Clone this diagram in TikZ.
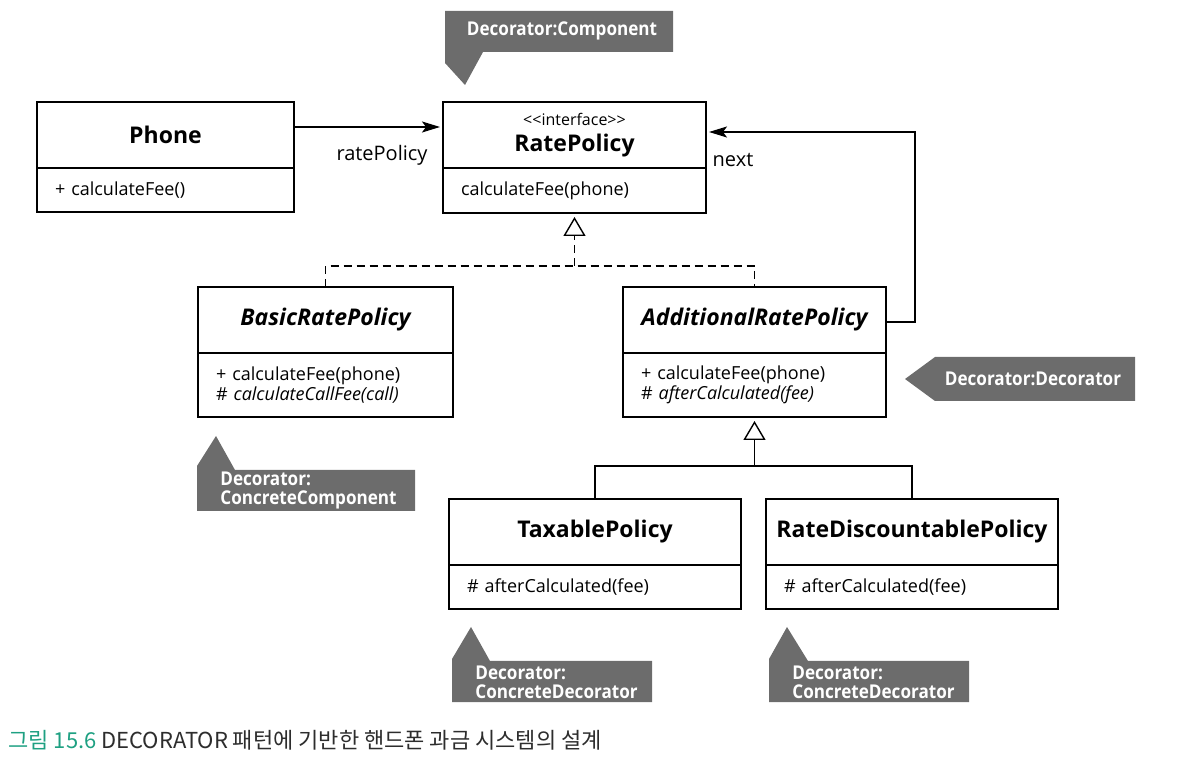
\documentclass[tikz,border=0pt]{standalone}
\usepackage{fontspec}
\setmainfont{Open Sans}
\newfontfamily\krfont{Noto Sans CJK KR}
\usepackage{graphicx}
\usepackage{tikz}
\usetikzlibrary{arrows.meta,calc}
\definecolor{notegray}{RGB}{108,108,108}
\definecolor{capgreen}{RGB}{30,160,130}
\definecolor{capgray}{RGB}{45,45,45}

\begin{document}
\begin{tikzpicture}[x=0.5pt,y=-0.5pt,
		clshead/.style={draw,line width=0.7pt,anchor=north west,inner sep=0pt,outer sep=0pt,align=center,minimum height=33pt,font=\fontsize{11.5}{13}\selectfont\bfseries},
		clsbody/.style={draw,line width=0.7pt,anchor=north west,inner xsep=9pt,inner ysep=0pt,outer sep=0pt,align=left,font=\fontsize{9}{10}\selectfont},
		lbl/.style={inner sep=0pt,font=\fontsize{10}{12}\selectfont},
		notetext/.style={inner sep=0pt,text=white,align=left,font=\fontsize{9.5}{9.5}\selectfont\bfseries},
		assoc/.style={line width=0.8pt,-{Stealth[length=9pt,width=5.5pt,inset=2pt]},shorten >=1.5pt},
		realize/.style={line width=0.7pt,dash pattern=on 4pt off 2.5pt},
		plainline/.style={line width=0.7pt},
		inherit/.style={-{Triangle[open,length=9.5pt,width=11pt,line width=0.7pt]},shorten >=2pt}]

			\useasboundingbox (0,0) rectangle (1178,758);

			% classes
			\node[clshead,minimum width=128.5pt] (phone) at (37,102) {Phone};
			\node[clsbody,text width=110.5pt,minimum height=22pt] (phonebody) at (phone.south west) {+ calculateFee()};

			\node[clshead,minimum width=131.5pt] (rate) at (443,102) {{\fontsize{8}{9}\selectfont\mdseries <{}<interface>{}>}\\RatePolicy};
			\node[clsbody,text width=113.5pt,minimum height=22.5pt] (ratebody) at (rate.south west) {calculateFee(phone)};

			\node[clshead,minimum width=127.5pt] (basic) at (198,287) {\itshape BasicRatePolicy};
			\node[clsbody,text width=109.5pt,minimum height=32pt] (basicbody) at (basic.south west) {+ calculateFee(phone)\\\# \textit{calculateCallFee(call)}};

			\node[clshead,minimum width=131.5pt] (addl) at (623,287) {\itshape AdditionalRatePolicy};
			\node[clsbody,text width=113.5pt,minimum height=32pt] (addlbody) at (addl.south west) {+ calculateFee(phone)\\\# \textit{afterCalculated(fee)}};

			\node[clshead,minimum width=146pt] (tax) at (449,499) {TaxablePolicy};
			\node[clsbody,text width=128pt,minimum height=22pt] (taxbody) at (tax.south west) {\# afterCalculated(fee)};

			\node[clshead,minimum width=146pt] (disc) at (766,499) {RateDiscountablePolicy};
			\node[clsbody,text width=128pt,minimum height=22pt] (discbody) at (disc.south west) {\# afterCalculated(fee)};

			% associations
			\draw[assoc] ([yshift=4pt]phone.east) -- ([yshift=4pt]rate.west);
			\node[lbl] (ratepolicylbl) at (382,155) {ratePolicy};
			\draw[assoc] ([yshift=-1pt]addl.east) -- ++(14.5pt,0) |- ([yshift=1.5pt]rate.east);
			\node[lbl] (nextlbl) at (733,160) {next};

			% realization
			\coordinate (rjoin) at (ratebody.south |- 0,266);
			\draw[realize] (basic.north) |- (rjoin) -| (addl.north);
			\draw[realize,inherit] (rjoin) -- (ratebody.south);

			% generalization
			\coordinate (gjoin) at (addlbody.south |- 0,466);
			\draw[plainline] (tax.north) |- (gjoin) -| (disc.north);
			\draw[plainline,inherit] (gjoin) -- (addlbody.south);

			% notes
			\fill[notegray] (445,11) -- (673,11) -- (673,52) -- (483,52) -- (465,85) -- (445,63) -- cycle;
			\node[notetext] (notecomp) at (562,31) {\scalebox{0.9}[1]{Decorator:Component}};
			\fill[notegray] (935,357) -- (1135,357) -- (1135,401) -- (935,401) -- (905,379) -- cycle;
			\node[notetext] (notedeco) at (1033,379) {\scalebox{0.9}[1]{Decorator:Decorator}};
			\fill[notegray] (197,511) -- (197,466) -- (216,436) -- (235,470) -- (415,470) -- (415,511) -- cycle;
			\node[notetext,anchor=west] (noteconcomp) at (220,491) {\scalebox{0.9}[1]{Decorator:}\\\scalebox{0.9}[1]{ConcreteComponent}};
			\fill[notegray] (452,702) -- (452,659) -- (471,627) -- (490,661) -- (652,661) -- (652,702) -- cycle;
			\node[notetext,anchor=west] (notecondeco) at (475,682) {\scalebox{0.9}[1]{Decorator:}\\\scalebox{0.9}[1]{ConcreteDecorator}};
			\fill[notegray] (769,702) -- (769,659) -- (787,627) -- (808,661) -- (969,661) -- (969,702) -- cycle;
			\node[notetext,anchor=west] (notecondecob) at (792,682) {\scalebox{0.9}[1]{Decorator:}\\\scalebox{0.9}[1]{ConcreteDecorator}};

			% caption
			\node[anchor=west,inner sep=0pt,font=\krfont\fontsize{11}{13}\selectfont] (caption) at (8,740) {\textcolor{capgreen}{그림 15.6} \textcolor{capgray}{DECORATOR 패턴에 기반한 핸드폰 과금 시스템의 설계}};

		\end{tikzpicture}
\end{document}
